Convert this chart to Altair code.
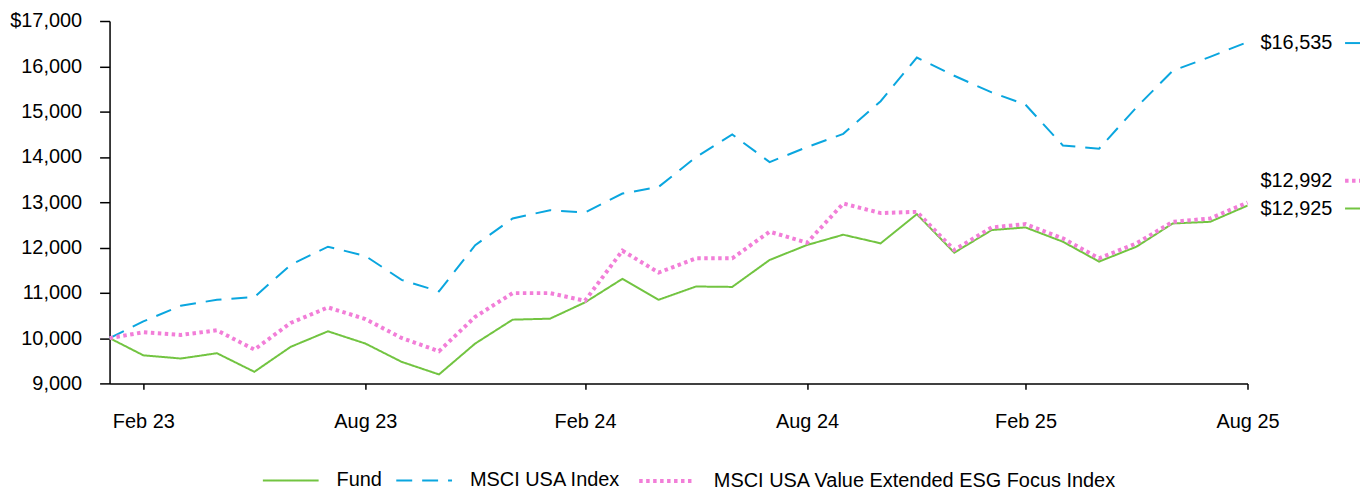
import altair as alt
import pandas as pd

dates = [
    "2023-01-31", "2023-02-28", "2023-03-31", "2023-04-30", "2023-05-31", "2023-06-30",
    "2023-07-31", "2023-08-31", "2023-09-30", "2023-10-31", "2023-11-30", "2023-12-31",
    "2024-01-31", "2024-02-29", "2024-03-31", "2024-04-30", "2024-05-31", "2024-06-30",
    "2024-07-31", "2024-08-31", "2024-09-30", "2024-10-31", "2024-11-30", "2024-12-31",
    "2025-01-31", "2025-02-28", "2025-03-31", "2025-04-30", "2025-05-31", "2025-06-30",
    "2025-07-31", "2025-08-31",
]

fund = [10000, 9620, 9549, 9666, 9256, 9806, 10150, 9880, 9476, 9198, 9880, 10407,
        10429, 10788, 11308, 10846, 11139, 11130, 11725, 12055, 12282, 12092, 12736, 11886,
        12385, 12443, 12128, 11689, 12018, 12531, 12567, 12925]

msci_usa = [10000, 10369, 10714, 10846, 10905, 11615, 12018, 11813, 11286, 11030, 12050, 12641,
            12824, 12773, 13191, 13337, 13996, 14495, 13886, 14216, 14509, 15230, 16194, 15791,
            15424, 15154, 14253, 14180, 15095, 15901, 16209, 16535]

msci_esg = [10000, 10128, 10070, 10172, 9747, 10333, 10678, 10421, 10003, 9711, 10470, 10993,
            10993, 10824, 11930, 11447, 11762, 11762, 12348, 12106, 12971, 12760, 12787, 11945,
            12443, 12516, 12201, 11762, 12092, 12567, 12641, 12992]

series_names = ["Fund", "MSCI USA Index", "MSCI USA Value Extended ESG Focus Index"]
series_values = [fund, msci_usa, msci_esg]

y_ticks = [9000, 10000, 11000, 12000, 13000, 14000, 15000, 16000, 17000]
x_tick_dates = [(2023, 2, 28), (2023, 8, 31), (2024, 2, 29), (2024, 8, 31), (2025, 2, 28), (2025, 8, 31)]

# styles
colors = ["#72C441", "#0AA6DF", "#F27ED8"]
dashes = [[1, 0], [16, 10], [3.5, 3.5]]
widths = [2, 2, 4]
label_dy = [3, 1, -22]
FONT = "Liberation Sans"
FS = 20

rows = []
for name, vals in zip(series_names, series_values):
    for d, v in zip(dates, vals):
        rows.append({"date": d, "value": v, "series": name})
df = pd.DataFrame(rows)

end_rows = []
for name, vals in zip(series_names, series_values):
    end_rows.append({"date": dates[-1], "value": vals[-1], "series": name,
                     "label": "${:,}".format(vals[-1])})
end_df = pd.DataFrame(end_rows)

x_enc = alt.X(
    "date:T",
    scale=alt.Scale(type="utc", nice=False,
                    domain=[alt.DateTime(year=2023, month=1, date=31, utc=True),
                            alt.DateTime(year=2025, month=8, date=31, utc=True)]),
    axis=alt.Axis(
        title=None, grid=False,
        values=[alt.DateTime(year=a, month=b, date=c, utc=True) for a, b, c in x_tick_dates],
        labelExpr="utcFormat(datum.value, '%b %y')",
        tickSize=6, labelPadding=22, labelAlign="center",
    ),
)
y_enc = alt.Y(
    "value:Q",
    scale=alt.Scale(domain=[9000, 17000], nice=False, zero=False),
    axis=alt.Axis(
        title=None, grid=False, values=y_ticks,
        labelExpr="datum.value == 17000 ? '$17,000' : format(datum.value, ',')",
        tickSize=10, labelPadding=18,
    ),
)

lines = alt.Chart(df).mark_line(strokeCap="butt").encode(
    x=x_enc,
    y=y_enc,
    color=alt.Color("series:N", scale=alt.Scale(domain=series_names, range=colors), title=None),
    strokeDash=alt.StrokeDash("series:N", scale=alt.Scale(domain=series_names, range=dashes), title=None),
    strokeWidth=alt.StrokeWidth("series:N", scale=alt.Scale(type="ordinal", domain=series_names, range=widths), title=None),
)

layers = [lines]
for name, c, dsh, w, dy in zip(series_names, colors, dashes, widths, label_dy):
    sub = end_df[end_df["series"] == name]
    txt = alt.Chart(sub).mark_text(
        align="left", baseline="middle", dx=13, dy=dy, font=FONT, fontSize=FS, color="black"
    ).encode(x="date:T", y="value:Q", text="label:N")
    rule = alt.Chart(sub).mark_rule(
        yOffset=dy, color=c, strokeDash=dsh, strokeWidth=w, strokeCap="butt"
    ).encode(y="value:Q", x=alt.value(1241), x2=alt.value(1261))
    layers += [txt, rule]

chart = alt.layer(*layers).properties(
    width=1143, height=364,
    autosize="none",
    padding={"left": 102, "top": 12, "right": 113, "bottom": 104},
).configure_view(stroke=None).configure_axis(
    labelFont=FONT, labelFontSize=FS, labelColor="black",
    domainColor="black", tickColor="black", domainWidth=1.5, tickWidth=1.5,
).configure_legend(
    orient="none", legendX=153, legendY=432, direction="horizontal",
    symbolType="stroke", symbolSize=3136, labelFont=FONT, labelFontSize=FS,
    labelColor="black", labelOffset=17, columnPadding=10, padding=0, labelLimit=0,
)

chart.save("out.html", embed_options={"renderer": "svg", "actions": False})
